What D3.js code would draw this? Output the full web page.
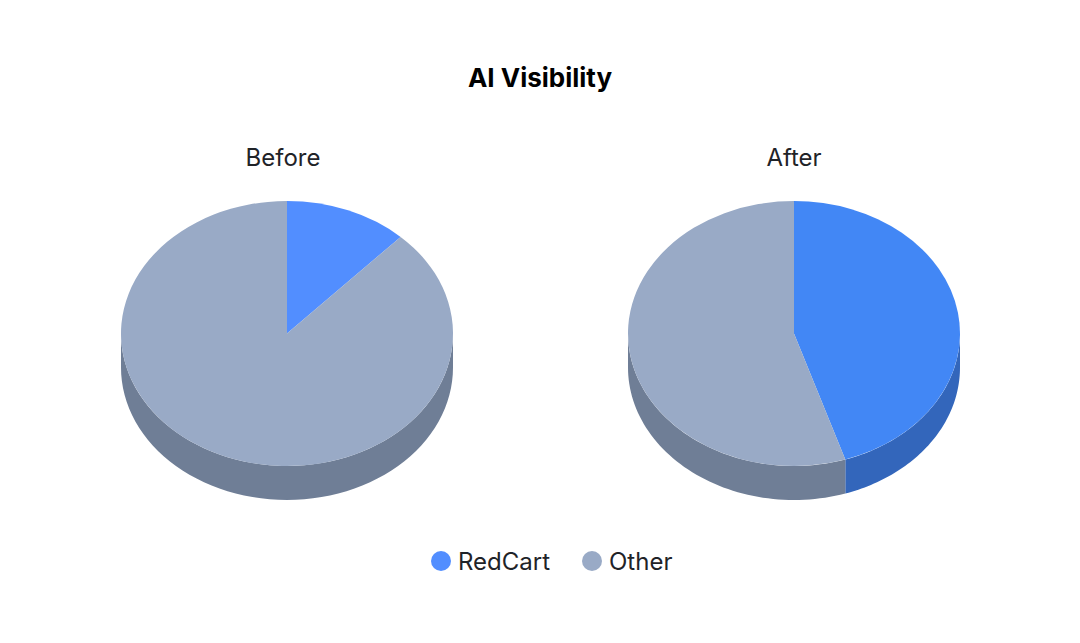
<!DOCTYPE html>
<html>
<head>
<meta charset="utf-8">
<script src="https://cdn.jsdelivr.net/npm/d3@7"></script>
<style>
  body { margin: 0; background: #fff; }
  text { font-family: Inter, "Noto Sans", sans-serif; fill: #1f2328; }
</style>
</head>
<body>
<div id="chart"></div>
<script>
// AI visibility share, before vs after, drawn as two tilted (3d) pies

const categories = ["RedCart", "Other"];
const panelTitles = ["Before", "After"];
const beforeValues = [12, 88];
const afterValues = [45, 55];

const width = 1080, height = 643;
const rx = 166, ry = 132.5, depth = 34;

// top colour, side colour per category (after panel gets a slightly deeper blue)
const topColours = [["#528eff", "#99aac6"], ["#4287f5", "#99aac6"]];
const sideColours = ["#3366bb", "#6f7e96"];
const legendColours = ["#528eff", "#99aac6"];

const svg = d3.select("#chart").append("svg")
    .attr("width", width)
    .attr("height", height);

svg.append("text")
    .attr("x", width / 2)
    .attr("y", 87)
    .attr("text-anchor", "middle")
    .style("font-size", "26px")
    .style("font-weight", 700)
    .style("fill", "#000")
    .text("AI Visibility");

// pie centres
const xPos = d3.scalePoint().domain(panelTitles).range([287, 794]);
const cy = 333.5;

const pie = d3.pie().sort(null).value(d => d);
const arc = d3.arc().innerRadius(0).outerRadius(rx);

// point on the ellipse rim, angle 0 = 12 o'clock, clockwise
function rim(a, dy) {
    return [rx * Math.sin(a), -ry * Math.cos(a) + dy];
}

function sidePath(a0, a1) {
    let s = Math.max(a0, Math.PI / 2), e = Math.min(a1, Math.PI * 1.5);
    if (e <= s) return null;
    let steps = d3.range(0, 61).map(i => s + (e - s) * i / 60);
    let pts = steps.map(a => rim(a, 0)).concat(steps.slice().reverse().map(a => rim(a, depth)));
    return d3.line()(pts) + "Z";
}

[beforeValues, afterValues].forEach(function(vals, p) {
    let g = svg.append("g")
        .attr("transform", "translate(" + xPos(panelTitles[p]) + "," + cy + ")");

    g.append("text")
        .attr("x", p == 0 ? -4 : 0)
        .attr("y", 166 - cy)
        .attr("text-anchor", "middle")
        .style("font-size", "24px")
        .text(panelTitles[p]);

    let slices = pie(vals);

    g.selectAll(".side")
        .data(slices)
        .enter()
        .append("path")
        .attr("class", "side")
        .attr("d", d => sidePath(d.startAngle, d.endAngle))
        .attr("fill", (d, i) => sideColours[i]);

    g.append("g")
        .attr("transform", "scale(1," + (ry / rx) + ")")
        .selectAll(".top")
        .data(slices)
        .enter()
        .append("path")
        .attr("class", "top")
        .attr("d", arc)
        .attr("fill", (d, i) => topColours[p][i]);
});

// legend
const legendX = d3.scaleOrdinal().domain(categories).range([441, 592]);
const legend = svg.selectAll(".legend")
    .data(categories)
    .enter()
    .append("g")
    .attr("class", "legend")
    .attr("transform", d => "translate(" + legendX(d) + ",561)");

legend.append("circle")
    .attr("r", 10)
    .attr("fill", (d, i) => legendColours[i]);

legend.append("text")
    .attr("x", 17)
    .attr("y", 8.5)
    .style("font-size", "24px")
    .text(d => d);
</script>
</body>
</html>
